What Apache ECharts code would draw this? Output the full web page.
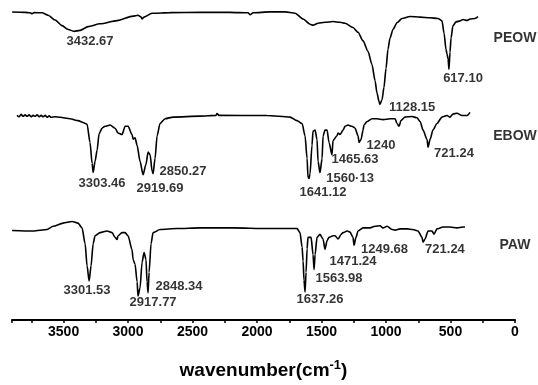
<!DOCTYPE html>
<html>
<head>
<meta charset="utf-8">
<script src="https://cdn.jsdelivr.net/npm/echarts@6/dist/echarts.min.js"></script>
<style>
  html, body { margin: 0; padding: 0; background: #fff; }
  #chart { width: 538px; height: 385px; }
</style>
</head>
<body>
<div id="chart"></div>
<script>
// ── FTIR spectra: PEOW / EBOW / PAW (stacked, offset transmittance) ──

// wavenumber (cm-1) and offset transmittance
const peowWave = [3899, 3798, 3760, 3744, 3729, 3667, 3620, 3566, 3512, 3465, 3419, 3372, 3310, 3217, 3085, 2961, 2923, 2899, 2892, 2876, 2814, 2674, 2442, 2209, 2070, 2054, 2031, 1899, 1783, 1705, 1643, 1589, 1566, 1527, 1473, 1411, 1357, 1318, 1256, 1217, 1178, 1140, 1109, 1085, 1070, 1054, 1047, 1031, 1016, 1000, 985, 969, 946, 915, 876, 814, 736, 659, 597, 566, 550, 535, 527, 519, 512, 504, 496, 481, 457, 426, 403, 372, 349, 310, 287];
const peowT = [324.3, 324, 323.5, 322.5, 323.7, 323.5, 321, 316, 310, 306, 304, 305, 309, 312, 315.3, 320, 321, 319, 317, 319, 323, 323.7, 324, 324, 323.5, 321.5, 323.5, 324.5, 324.5, 323, 317, 311.5, 310.5, 312.5, 313.5, 314.3, 313.5, 312.5, 308, 303, 294, 283, 269, 252, 239, 230, 227, 232, 245, 265, 285, 297, 306, 313, 317.5, 319.7, 319, 318.3, 317.5, 315, 302, 285, 280, 275, 264, 282, 297, 310, 314, 315, 316.5, 315.5, 317, 317.5, 319.5];

const ebowWave = [3861, 3845, 3830, 3814, 3798, 3783, 3767, 3752, 3736, 3721, 3705, 3690, 3674, 3659, 3643, 3628, 3612, 3597, 3566, 3527, 3450, 3388, 3349, 3318, 3295, 3279, 3271, 3256, 3240, 3225, 3202, 3178, 3140, 3101, 3078, 3047, 3023, 3000, 2969, 2961, 2946, 2930, 2907, 2884, 2861, 2845, 2829, 2814, 2806, 2791, 2775, 2752, 2713, 2651, 2442, 2318, 2310, 2295, 1923, 1744, 1690, 1651, 1628, 1612, 1605, 1597, 1589, 1574, 1566, 1550, 1535, 1527, 1512, 1496, 1488, 1473, 1457, 1442, 1419, 1411, 1380, 1372, 1357, 1333, 1318, 1295, 1264, 1240, 1217, 1209, 1194, 1178, 1171, 1147, 1109, 1070, 1023, 969, 930, 915, 899, 884, 853, 798, 760, 736, 713, 682, 674, 659, 636, 605, 566, 527, 504, 481, 450, 411, 372, 349];
const ebowT = [215.5, 214, 216.5, 214.5, 216, 214.5, 216, 214, 215.5, 214.5, 216, 214, 215.5, 214, 215.5, 213.5, 215, 213.5, 214, 213.5, 212, 210, 208, 206, 187, 165, 155.3, 167, 179, 196, 202, 204, 205.3, 202, 197, 195.3, 204, 204, 195.3, 190.3, 192, 184, 167, 153, 164, 177, 174, 157, 154, 170, 194, 207, 212, 213.7, 214.7, 215.5, 217.5, 215.5, 215.3, 213.7, 210, 207, 194, 170, 150, 149, 154, 184, 199, 200, 190, 167, 155, 170, 194, 200, 200, 187, 174, 189, 194, 197, 195.3, 200, 204, 205.3, 204, 202, 194, 187, 190, 200, 205.3, 209, 212, 212, 211, 212, 212, 207, 204, 210, 213.7, 214.3, 213, 209, 200, 190, 182, 190, 200, 207, 213.7, 215.3, 213.7, 217, 217.7, 215.3, 215.3, 218.7];

const pawWave = [3899, 3736, 3628, 3581, 3504, 3434, 3388, 3357, 3333, 3318, 3302, 3287, 3271, 3256, 3217, 3163, 3124, 3101, 3085, 3078, 3047, 3023, 3000, 2969, 2961, 2946, 2930, 2923, 2907, 2892, 2876, 2861, 2853, 2845, 2837, 2822, 2806, 2752, 2620, 2442, 2186, 1923, 1690, 1667, 1651, 1643, 1636, 1628, 1620, 1612, 1605, 1581, 1566, 1558, 1550, 1535, 1512, 1488, 1473, 1457, 1442, 1411, 1395, 1372, 1349, 1333, 1302, 1279, 1256, 1248, 1233, 1217, 1178, 1124, 1085, 1047, 1023, 992, 954, 930, 891, 837, 791, 752, 721, 713, 698, 674, 643, 628, 605, 558, 504, 450, 403, 388];
const pawT = [94.3, 93.7, 95.3, 98.7, 102, 103.7, 102, 97, 80.3, 57, 41, 57, 80.3, 88.7, 92, 93.7, 92, 87, 84.7, 88.7, 92, 92, 88.7, 73.7, 63.7, 58.7, 40.3, 25.3, 34, 60.3, 71, 63.7, 40.3, 28.7, 50.3, 80.3, 92, 95.3, 96.3, 97, 97, 96.3, 96.3, 92, 77, 62, 42, 29.5, 50.3, 75, 87, 87, 69, 53, 69, 87, 90.3, 85, 74.5, 83.7, 87, 88.7, 88.7, 85.3, 90, 92, 93.7, 92.7, 87, 78.7, 87, 93.7, 97, 97, 98.7, 99.3, 97, 98.7, 95.3, 94.7, 96, 96, 95.3, 93.7, 87, 82, 85.3, 93.7, 93.7, 90.3, 96, 98, 98, 97, 98, 98];

// peak annotations: [wavenumber, transmittance, text]
const peakLabels = [
  [3295, 293, '3432.67'], [798, 224, '1128.15'], [403, 254, '617.10'],
  [3202, 144, '3303.46'], [2752, 139, '2919.69'], [2574, 156, '2850.27'],
  [1488, 134, '1641.12'], [1279, 149, '1560·13'], [1240, 169, '1465.63'],
  [1039, 184, '1240'], [473, 175, '721.24'],
  [3318, 31, '3301.53'], [2806, 19, '2917.77'], [2605, 35, '2848.34'],
  [1512, 22, '1637.26'], [1364, 44, '1563.98'], [1256, 62, '1471.24'],
  [1012, 74, '1249.68'], [543, 74, '721.24'],
];
const sampleLabels = [[0, 297, 'PEOW'], [0, 194, 'EBOW'], [0, 79, 'PAW']];

const xTicks = [3500, 3000, 2500, 2000, 1500, 1000, 500, 0];

const FONT = '"Liberation Sans", Arial, sans-serif';
const zip = (w, t) => w.map((x, i) => [x, t[i]]);

const chart = echarts.init(document.getElementById('chart'));

function spectrum(name, w, t) {
  return {
    name, type: 'line', data: zip(w, t), showSymbol: false, silent: true,
    smooth: 0.25, smoothMonotone: 'x',
    lineStyle: { color: '#000', width: 1.6 },
  };
}

function labelSeries(data, size) {
  return {
    type: 'scatter', data, symbolSize: 0, silent: true,
    label: {
      show: true, position: 'inside', formatter: p => p.data[2],
      color: '#000', fontFamily: FONT, fontWeight: 'bold', fontSize: size,
    },
  };
}

chart.setOption({
  animation: false,
  backgroundColor: '#fff',
  grid: { left: 12, right: 23, top: 0, bottom: 48 },
  xAxis: {
    type: 'value', min: 0, max: 3900, interval: 250, inverse: true,
    axisLine: { lineStyle: { color: '#000', width: 2 } },
    axisTick: { show: true, length: 3, lineStyle: { color: '#000', width: 1.5 } },
    splitLine: { show: false },
    axisLabel: {
      margin: 5, color: '#000', fontFamily: FONT, fontWeight: 'bold', fontSize: 14,
      formatter: v => xTicks.includes(v) ? String(v) : '',
    },
    name: '{a|wavenumber(cm}{b|-1}{a|)}',
    nameLocation: 'middle', nameGap: 39,
    nameTextStyle: {
      rich: {
        a: { fontFamily: FONT, fontWeight: 'bold', fontSize: 19, color: '#000' },
        b: { fontFamily: FONT, fontWeight: 'bold', fontSize: 13, color: '#000', padding: [0, 0, 10, 0] },
      },
    },
  },
  yAxis: { type: 'value', min: 0, max: 337, show: false },
  series: [
    spectrum('PEOW', peowWave, peowT),
    spectrum('EBOW', ebowWave, ebowT),
    spectrum('PAW', pawWave, pawT),
    labelSeries(peakLabels, 13),
    labelSeries(sampleLabels, 14),
  ],
});
</script>
</body>
</html>
